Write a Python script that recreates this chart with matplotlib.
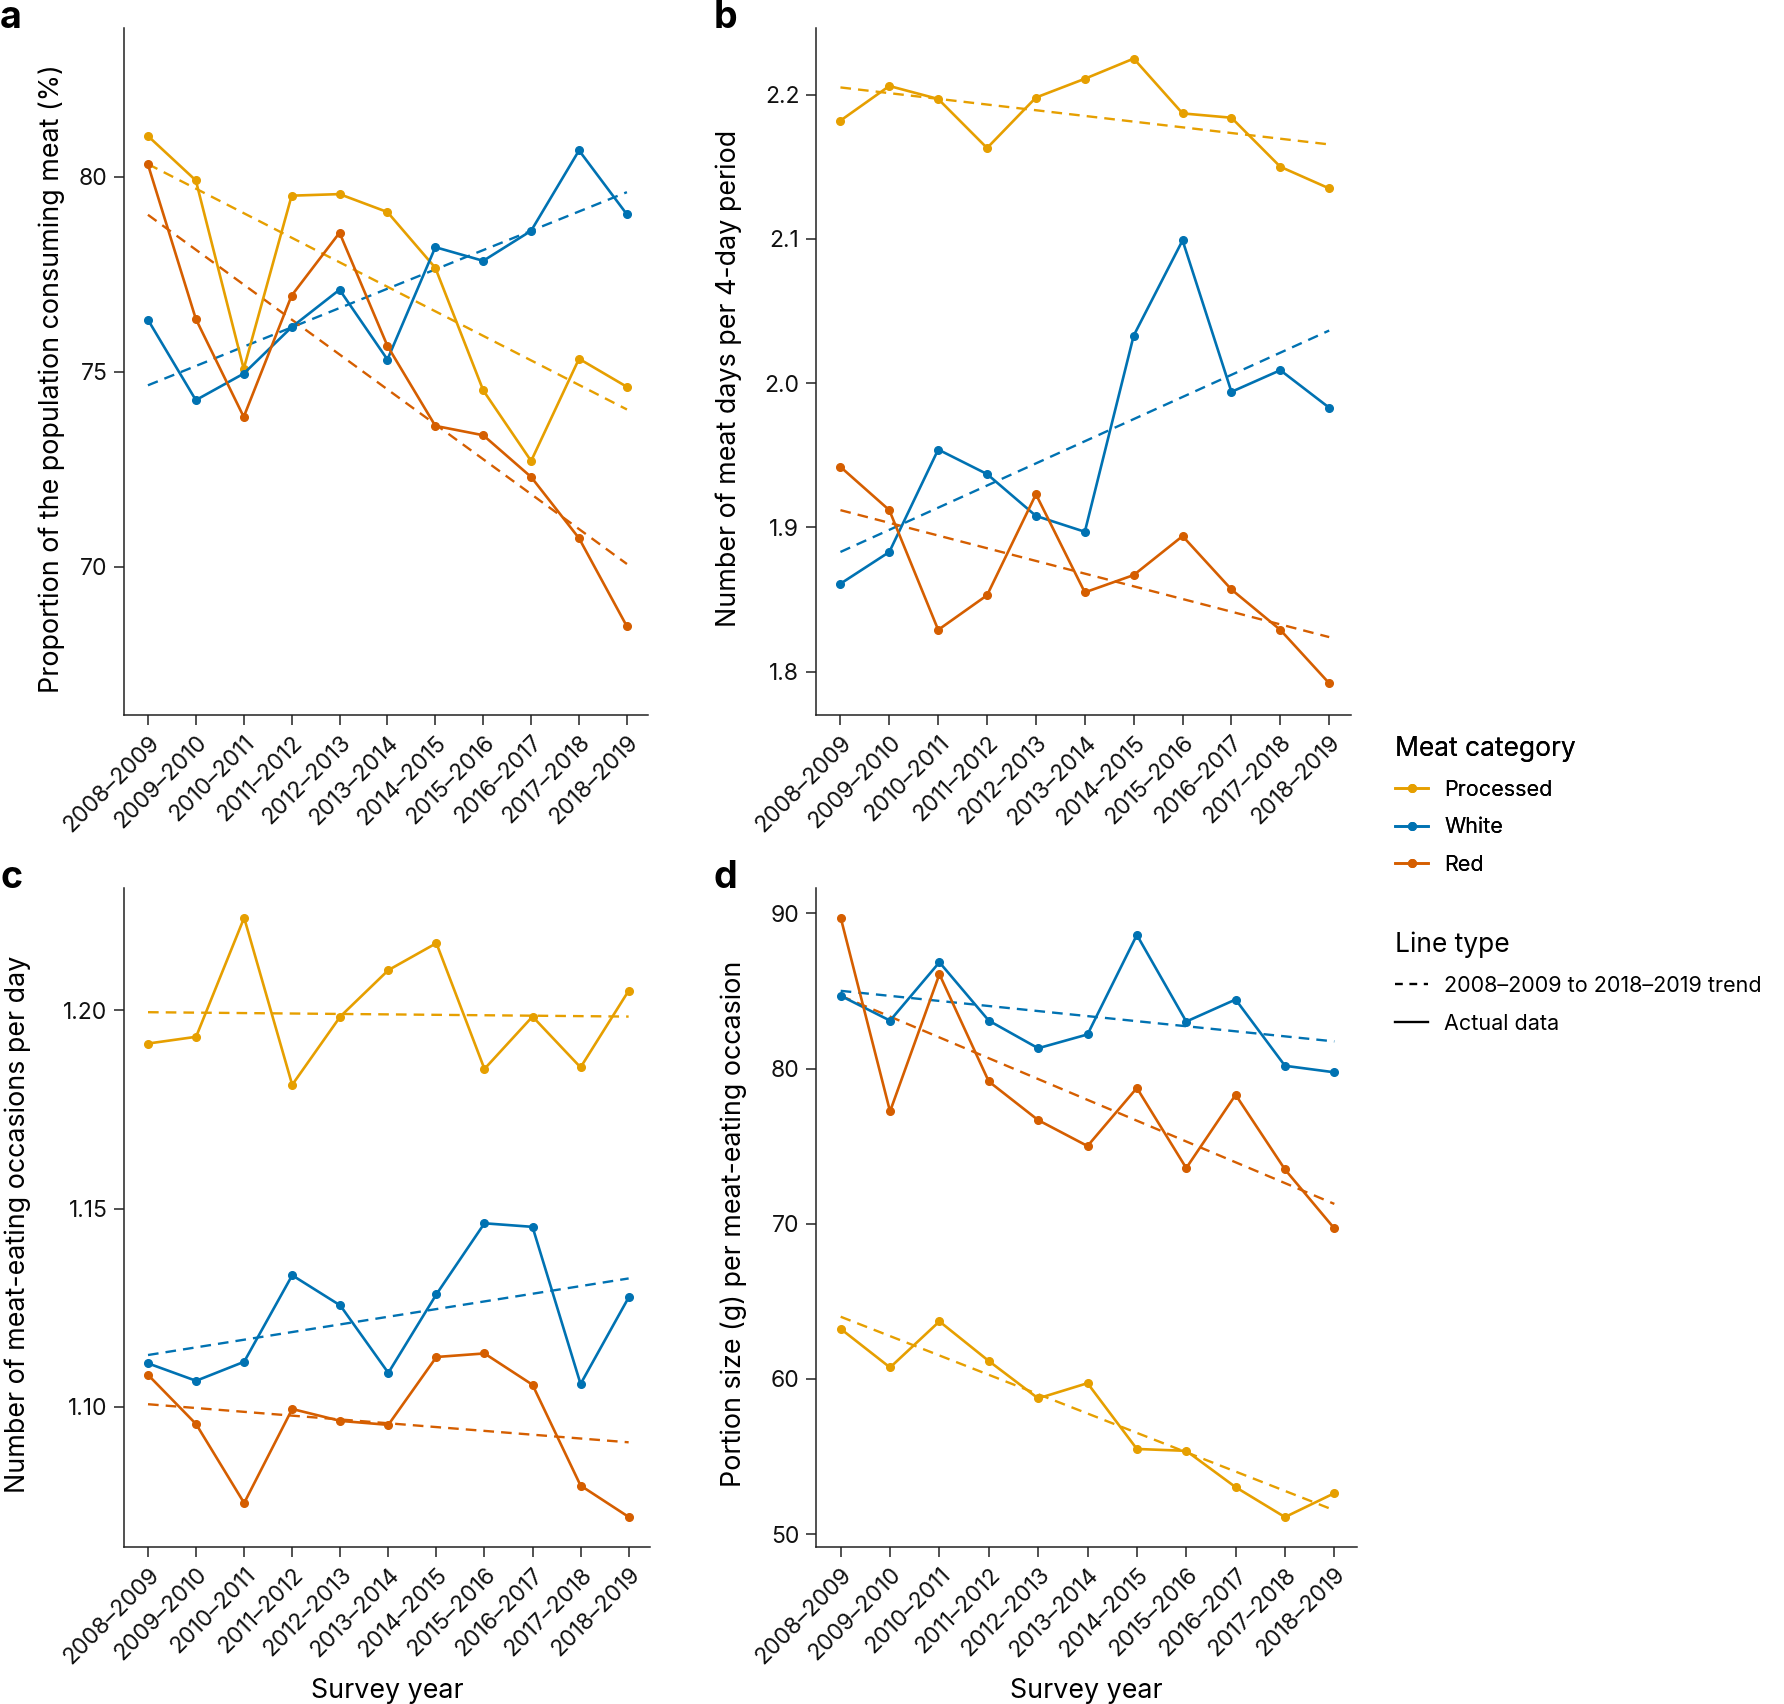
import matplotlib
matplotlib.use('Agg')
import matplotlib.pyplot as plt
from matplotlib.lines import Line2D

plt.rcParams['font.family'] = ['Inter', 'DejaVu Sans']

# ---------------- data ----------------
years = ['2008–2009', '2009–2010', '2010–2011', '2011–2012', '2012–2013',
         '2013–2014', '2014–2015', '2015–2016', '2016–2017', '2017–2018', '2018–2019']
categories = ['Processed', 'White', 'Red']
cat_colors = ['#E69F00', '#0072B2', '#D55E00']

# a: proportion of population consuming meat (%)
a_processed = [81.04, 79.90, 75.07, 79.51, 79.55, 79.09, 77.66, 74.52, 72.71, 75.33, 74.61]
a_white = [76.33, 74.27, 74.95, 76.14, 77.10, 75.31, 78.19, 77.84, 78.61, 80.67, 79.03]
a_red = [80.31, 76.35, 73.84, 76.95, 78.56, 75.66, 73.61, 73.37, 72.30, 70.73, 68.47]
a_trend_processed = [80.32, 74.03]
a_trend_white = [74.65, 79.60]
a_trend_red = [79.02, 70.07]

# b: number of meat days per 4-day period
b_processed = [2.182, 2.206, 2.197, 2.163, 2.198, 2.211, 2.225, 2.187, 2.184, 2.150, 2.135]
b_white = [1.861, 1.883, 1.954, 1.937, 1.908, 1.897, 2.033, 2.099, 1.994, 2.009, 1.983]
b_red = [1.942, 1.912, 1.829, 1.853, 1.923, 1.855, 1.867, 1.894, 1.857, 1.829, 1.792]
b_trend_processed = [2.205, 2.1655]
b_trend_white = [1.883, 2.0365]
b_trend_red = [1.912, 1.824]

# c: number of meat-eating occasions per day
c_processed = [1.1916, 1.1933, 1.2233, 1.1812, 1.1984, 1.2101, 1.2169, 1.1852, 1.1984, 1.1856, 1.2049]
c_white = [1.1110, 1.1066, 1.1114, 1.1332, 1.1256, 1.1086, 1.1284, 1.1463, 1.1454, 1.1058, 1.1276]
c_red = [1.1081, 1.0957, 1.0758, 1.0995, 1.0965, 1.0955, 1.1126, 1.1135, 1.1056, 1.0802, 1.0723]
c_trend_processed = [1.1995, 1.1984]
c_trend_white = [1.1131, 1.1324]
c_trend_red = [1.1007, 1.0911]

# d: portion size (g) per meat-eating occasion
d_processed = [63.23, 60.74, 63.71, 61.16, 58.75, 59.73, 55.49, 55.37, 53.03, 51.10, 52.64]
d_white = [84.69, 83.09, 86.85, 83.09, 81.31, 82.20, 88.61, 83.03, 84.45, 80.18, 79.76]
d_red = [89.73, 77.24, 86.08, 79.17, 76.68, 75.01, 78.75, 73.59, 78.31, 73.50, 69.70]
d_trend_processed = [64.01, 51.54]
d_trend_white = [85.01, 81.75]
d_trend_red = [84.69, 71.28]

panels = [
    dict(letter='a', series=[a_processed, a_white, a_red],
         trends=[a_trend_processed, a_trend_white, a_trend_red],
         ylabel='Proportion of the population consuming meat (%)',
         yticks=[70, 75, 80], yticklabels=['70', '75', '80'], ylim=(66.2, 83.8),
         rect=[0.0695, 0.5804, 0.294, 0.403], xlabel=None,
         label_x=-0.112, letter_xy=(0.0, 0.9836)),
    dict(letter='b', series=[b_processed, b_white, b_red],
         trends=[b_trend_processed, b_trend_white, b_trend_red],
         ylabel='Number of meat days per 4-day period',
         yticks=[1.8, 1.9, 2.0, 2.1, 2.2], yticklabels=['1.8', '1.9', '2.0', '2.1', '2.2'],
         ylim=(1.770, 2.246),
         rect=[0.4574, 0.5804, 0.300, 0.403], xlabel=None,
         label_x=-0.138, letter_xy=(0.400, 0.9836)),
    dict(letter='c', series=[c_processed, c_white, c_red],
         trends=[c_trend_processed, c_trend_white, c_trend_red],
         ylabel='Number of meat-eating occasions per day',
         yticks=[1.10, 1.15, 1.20], yticklabels=['1.10', '1.15', '1.20'],
         ylim=(1.0647, 1.2309),
         rect=[0.0695, 0.0921, 0.295, 0.387], xlabel='Survey year',
         label_x=-0.176, letter_xy=(0.0, 0.479)),
    dict(letter='d', series=[d_processed, d_white, d_red],
         trends=[d_trend_processed, d_trend_white, d_trend_red],
         ylabel='Portion size (g) per meat-eating occasion',
         yticks=[50, 60, 70, 80, 90], yticklabels=['50', '60', '70', '80', '90'],
         ylim=(49.17, 91.66),
         rect=[0.4574, 0.0921, 0.303, 0.387], xlabel='Survey year',
         label_x=-0.127, letter_xy=(0.400, 0.479)),
]

fig = plt.figure(figsize=(17.84, 17.04), dpi=100)

TICK_FS = 16.5
LABEL_FS = 19.3
x = list(range(len(years)))

for p in panels:
    ax = fig.add_axes(p['rect'])
    for vals, tr, col in zip(p['series'], p['trends'], cat_colors):
        ax.plot([x[0], x[-1]], tr, color=col, lw=1.7, ls=(0, (4.5, 3)), zorder=2)
        ax.plot(x, vals, color=col, lw=1.9, marker='o', markersize=5.5, zorder=3)
    ax.set_xlim(-0.5, 10.45)
    ax.set_ylim(*p['ylim'])
    ax.set_xticks(x)
    ax.set_xticklabels(years, rotation=45, ha='right', rotation_mode='anchor', fontsize=TICK_FS)
    ax.set_yticks(p['yticks'])
    ax.set_yticklabels(p['yticklabels'], fontsize=TICK_FS)
    for s in ['top', 'right']:
        ax.spines[s].set_visible(False)
    for s in ['left', 'bottom']:
        ax.spines[s].set_linewidth(1.1)
        ax.spines[s].set_color('#222222')
    ax.tick_params(axis='both', length=7, width=1.1, color='#222222', labelcolor='#111111', pad=5)
    ax.set_ylabel(p['ylabel'], fontsize=LABEL_FS)
    ax.yaxis.set_label_coords(p['label_x'], 0.49)
    if p['xlabel']:
        ax.set_xlabel(p['xlabel'], fontsize=LABEL_FS, labelpad=7)
    fig.text(p['letter_xy'][0], p['letter_xy'][1], p['letter'], fontsize=27,
             fontweight='bold', va='baseline', ha='left')

# legends
common = dict(loc='upper left', frameon=False, fontsize=15.5, title_fontsize=19,
              handlelength=1.55, handletextpad=0.75, labelspacing=0.82, alignment='left')
cat_handles = [Line2D([0], [0], color=c, lw=1.9, marker='o', markersize=5.5) for c in cat_colors]
leg1 = fig.legend(cat_handles, categories, title='Meat category',
                  bbox_to_anchor=(0.771, 0.5795), **common)
fig.add_artist(leg1)
lt_handles = [Line2D([0], [0], color='black', lw=1.7, ls=(0, (3.3, 2.8))),
              Line2D([0], [0], color='black', lw=1.7)]
leg2 = fig.legend(lt_handles, ['2008–2009 to 2018–2019 trend', 'Actual data'], title='Line type',
                  bbox_to_anchor=(0.771, 0.4646), **common)

fig.savefig('out.png', dpi=100)
